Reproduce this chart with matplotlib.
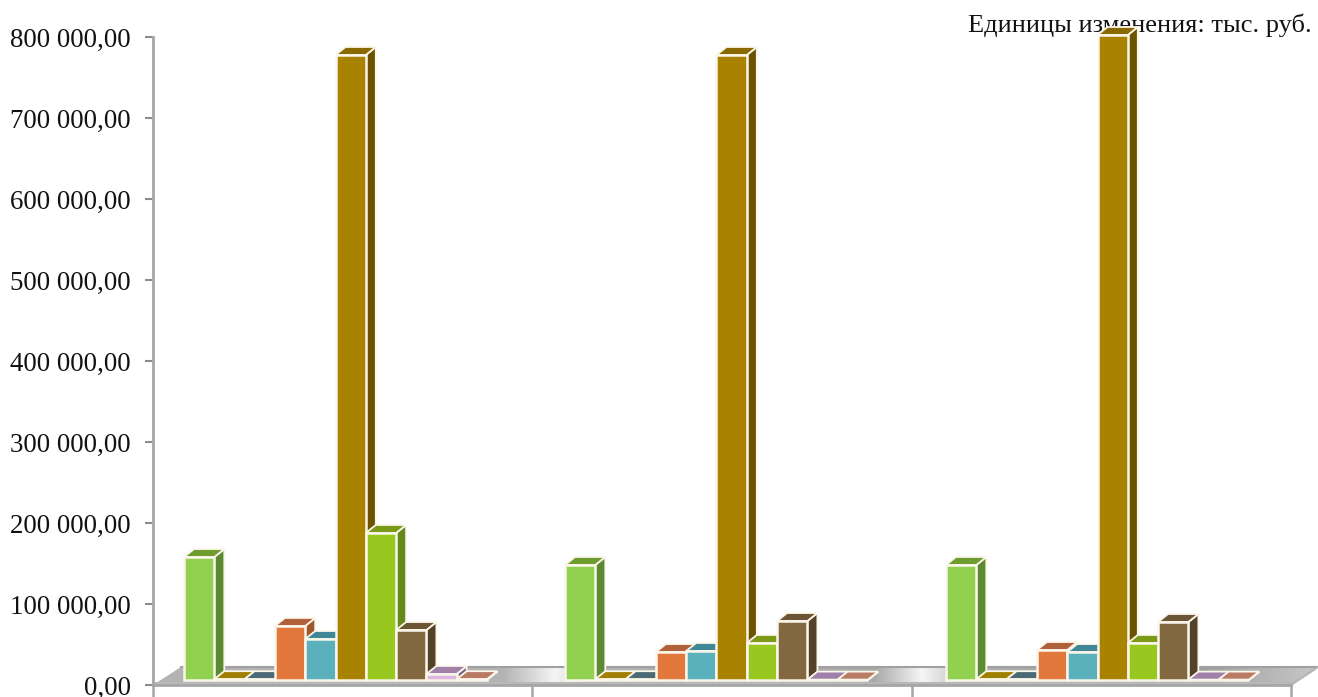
#!/usr/bin/env python3
# 3D-looking clustered bars, faked with flat polygons on a 2D axes.
import numpy as np
import matplotlib
matplotlib.use('Agg')
import matplotlib.pyplot as plt
from matplotlib.patches import Polygon

plt.rcParams['font.family'] = ['Liberation Serif', 'DejaVu Serif']

# ── values ───────────────────────────────────────────────
green  = [151800, 142000, 142000]
gold   = [1000, 1000, 1000]
slate  = [1000, 1000, 1000]
orange = [66700, 34500, 37000]
teal   = [50600, 35800, 34500]
amber  = [771600, 771600, 796300]
lime   = [181500, 45700, 45700]
brown  = [61700, 72800, 71600]
pink   = [7400, 500, 500]
salmon = [1000, 500, 500]
y_ticks = [0, 100000, 200000, 300000, 400000, 500000, 600000, 700000, 800000]
y_labels = ['0,00', '100 000,00', '200 000,00', '300 000,00', '400 000,00',
            '500 000,00', '600 000,00', '700 000,00', '800 000,00']
unit_text = 'Единицы изменения: тыс. руб.'

series = [green, gold, slate, orange, teal, amber, lime, brown, pink, salmon]
#          front      side       top
colors = [('#92D050', '#5C8A30', '#6E9C2E'),
          ('#A98200', '#6B5300', '#A08000'),
          ('#5BB1BB', '#3C5F6A', '#4B6A75'),
          ('#E3783C', '#A0552B', '#B0603A'),
          ('#5BB1BB', '#3C7A88', '#3F8796'),
          ('#A98200', '#6B5300', '#8A6A00'),
          ('#98C820', '#65881A', '#7A9A18'),
          ('#82683F', '#544228', '#6B5535'),
          ('#DDB5DD', '#7A5F88', '#A080A8'),
          ('#C98A75', '#A06A58', '#B97B65')]

W, H = 1318, 697
AX_L, AX_R, AX_T, AX_B = 153, 1291, 37, 685
fig = plt.figure(figsize=(W / 100, H / 100), dpi=100)
ax = fig.add_axes([AX_L / W, 1 - AX_B / H, (AX_R - AX_L) / W, (AX_B - AX_T) / H])
ax.set_xlim(0, 3)
ax.set_ylim(0, 800000)

# pixel -> data scale
px_x = 3 / (AX_R - AX_L)
px_y = 800000 / (AX_B - AX_T)

lift = 5 * px_y        # bars stand on the floor, a bit above y=0
dx, dy = 10 * px_x, 8 * px_y
bar_w = 30.3 * px_x
start = 31 * px_x
group_step = 381 * px_x

# floor with the metallic gradient
xs = np.linspace(0, 1, 600)
stops_x = [0, 0.30, 0.345, 0.39, 0.62, 0.66, 0.71, 0.90, 1]
stops_v = [0.70, 0.70, 0.96, 0.70, 0.66, 0.96, 0.68, 0.62, 0.78]
grad = np.interp(xs, stops_x, stops_v)[None, :]
floor_x1 = 3 + 27 * px_x
floor_top = Polygon([(0, 0), (28 * px_x, 18 * px_y), (floor_x1, 18 * px_y), (3, 0)],
                    closed=True, transform=ax.transData, facecolor='none', edgecolor='none')
ax.add_patch(floor_top)
im = ax.imshow(grad, extent=[0, floor_x1, 0, 18 * px_y], aspect='auto', cmap='gray',
               vmin=0, vmax=1, zorder=1)
im.set_clip_box(fig.bbox)
im.set_clip_path(floor_top)
ax.plot([28 * px_x, floor_x1], [18 * px_y, 18 * px_y], color='#A0A0A0', lw=1.5, zorder=1.1, clip_on=False)
ax.plot([3, floor_x1], [0, 18 * px_y], color='#B5B5B5', lw=1.5, zorder=1.1, clip_on=False)
ax.fill_between([0, 3], -2 * px_y, lift * 0.7, color='#B8B8B8', zorder=1.2, lw=0)
ax.set_xlim(0, 3)
ax.set_ylim(0, 800000)

# bars, left to right so each one overlaps the side of the previous one
z = 3
edge = '#FBF6EA'
for g in range(3):
    for s, vals in enumerate(series):
        v = vals[g]
        front, side, top = colors[s]
        x0 = start + g * group_step + s * bar_w
        x1 = x0 + bar_w
        y0, y1 = lift, lift + v
        ax.add_patch(Polygon([(x1, y0), (x1 + dx, y0 + dy), (x1 + dx, y1 + dy), (x1, y1)],
                             facecolor=side, edgecolor=edge, lw=1.3, zorder=z, clip_on=False))
        ax.add_patch(Polygon([(x0, y1), (x0 + dx, y1 + dy), (x1 + dx, y1 + dy), (x1, y1)],
                             facecolor=top, edgecolor=edge, lw=1.3, zorder=z, clip_on=False))
        ax.bar(x0, v, width=bar_w, bottom=lift, align='edge', color=front,
               edgecolor=edge, linewidth=1.8, zorder=z, clip_on=False)
        z += 0.01

# axes
for name in ['top', 'right']:
    ax.spines[name].set_visible(False)
for name in ['left', 'bottom']:
    ax.spines[name].set_color('#A6A6A6')
    ax.spines[name].set_linewidth(2)
    ax.spines[name].set_zorder(2)
ax.set_yticks(y_ticks)
ax.set_yticklabels(y_labels, fontsize=19.4, color='#111111')
ax.tick_params(axis='y', length=6, width=1.5, color='#8C8C8C', pad=10)
ax.set_xticks([0, 1, 2, 3])
ax.set_xticklabels([])
ax.tick_params(axis='x', length=12, width=1.8, color='#A6A6A6')

# sits behind the tall bar of the last group
ax.text(1312 / W, 1 - 25 / H, unit_text, transform=fig.transFigure, ha='right', va='center',
        fontsize=19, color='#111111', zorder=2.5, clip_on=False)

fig.savefig('out.png', dpi=100)
plt.close(fig)
